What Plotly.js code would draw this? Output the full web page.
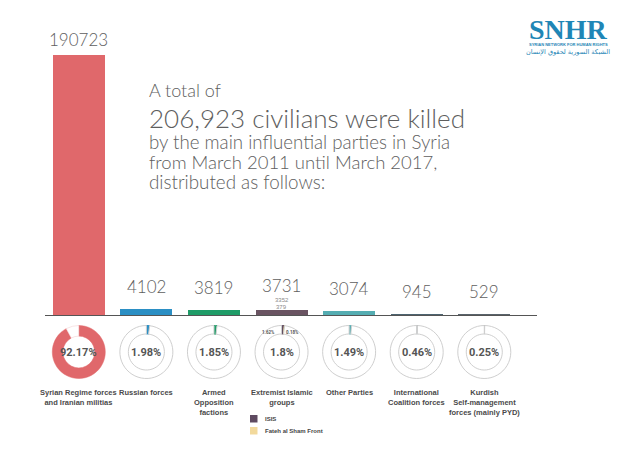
<!DOCTYPE html>
<html>
<head>
<meta charset="utf-8">
<script src="https://cdn.plot.ly/plotly-3.0.1.min.js"></script>
<style>html,body{margin:0;padding:0;background:#fff;}#chart{width:640px;height:452px;}</style>
</head>
<body>
<div id="chart"></div>
<script>
// ---- data ----
const categories = [
  "Syrian Regime forces<br>and Iranian militias",
  "Russian forces",
  "Armed<br>Opposition<br>factions",
  "Extremist Islamic<br>groups",
  "Other Parties",
  "International<br>Coalition forces",
  "Kurdish<br>Self-management<br>forces (mainly PYD)"
];
const totals = [190723, 4102, 3819, 3731, 3074, 945, 529];
const percents = [92.17, 1.98, 1.85, 1.8, 1.49, 0.46, 0.25];
const percentLabels = ["92.17%", "1.98%", "1.85%", "1.8%", "1.49%", "0.46%", "0.25%"];
const extremistParts = ["ISIS", "Fateh al Sham Front"];
const extremistValues = [3352, 379];
const extremistPercents = [1.62, 0.18];
const extremistPercentLabels = ["1.62%", "0.18%"];
const titleLines = [
  "A total of",
  "206,923 civilians were killed",
  "by the main influential parties in Syria",
  "from March 2011 until March 2017,",
  "distributed as follows:"
];

// ---- styles ----
const colors = ['#e0686b', '#2b8fc4', '#1f9c68', '#6a5462', '#55adb2', '#4d6470', '#59636b'];
const partColors = ['#5e4a60', '#f2d99c'];
const EXTREMIST = 3;
const W = 640, H = 452, L = 45, R = 103, PW = W - L - R;
const px = x => (x - L) / PW;
const py = y => (H - y) / H;
const XMIN = -0.5, XMAX = 6.78;
const catPx = i => L + (i - XMIN) / (XMAX - XMIN) * PW;
const lightFont = (size) => ({family: 'Lato, Roboto, sans-serif', size: size, color: '#5e5e5e', weight: 300});
const condBold = (size, color) => ({family: 'Roboto, "Liberation Sans", sans-serif', size: size, color: color || '#555', weight: 700});

const traces = [];
// main bars (all but the stacked extremist one)
traces.push({
  type: 'bar',
  x: totals.map((v, i) => i),
  y: totals.map((v, i) => i === EXTREMIST ? null : v),
  marker: {color: colors},
  hoverinfo: 'y',
  showlegend: false
});
// extremist stacked parts
extremistParts.forEach((name, k) => {
  traces.push({
    type: 'bar', name: name,
    x: [EXTREMIST], y: [extremistValues[k]],
    marker: {color: k === 0 ? colors[EXTREMIST] : partColors[1]},
    showlegend: false
  });
});

// donuts
const R_PX = 26.5, CY = 352;
percents.forEach((p, i) => {
  const cx = catPx(i);
  const dom = {x: [px(cx - R_PX), px(cx + R_PX)], y: [py(CY + R_PX), py(CY - R_PX)]};
  let values, cols, lines, hole;
  if (i === 0) {
    values = [p, 100 - p]; cols = [colors[0], '#ffffff']; lines = [colors[0], '#f1c9ca']; hole = 0.6;
  } else if (i === EXTREMIST) {
    values = extremistPercents.concat([100 - p]);
    cols = [partColors[0], partColors[1], '#ffffff'];
    lines = [partColors[0], '#c9b27a', '#cfcfcf'];
    hole = 0.68;
  } else {
    values = [p, 100 - p]; cols = [colors[i], '#ffffff']; lines = [colors[i], '#cfcfcf']; hole = 0.68;
  }
  traces.push({
    type: 'pie', values: values, sort: false, direction: 'clockwise', rotation: 0,
    hole: hole, domain: dom, textinfo: 'none', hoverinfo: 'none', showlegend: false,
    marker: {colors: cols, line: {color: lines, width: i === 0 ? 0.5 : 1}}
  });
});

const ann = [];
// value labels above bars
totals.forEach((v, i) => {
  ann.push({x: i, y: v, xref: 'x', yref: 'y', text: String(v), showarrow: false, xanchor: 'center',
    yanchor: 'bottom', yshift: v > 100000 ? 3 : (i === EXTREMIST ? 12 : 10), font: lightFont(17)});
});
// extremist sub-values
extremistValues.forEach((v, k) => {
  ann.push({x: EXTREMIST, y: totals[EXTREMIST], xref: 'x', yref: 'y', text: String(v), showarrow: false,
    xanchor: 'center', yanchor: 'middle', yshift: k === 0 ? 10 : 3,
    font: {family: 'Liberation Sans, sans-serif', size: 6, color: '#8a8a8a'}});
});
// donut centre labels
percentLabels.forEach((t, i) => {
  ann.push({x: px(catPx(i)), y: py(CY), xref: 'paper', yref: 'paper', text: t, showarrow: false,
    xanchor: 'center', yanchor: 'middle', font: condBold(11, '#555')});
});
// extremist donut small labels
extremistPercentLabels.forEach((t, k) => {
  ann.push({x: px(catPx(EXTREMIST) + (k === 0 ? -5 : 2)), y: py(CY - 20), xref: 'paper', yref: 'paper',
    text: t, showarrow: false, xanchor: k === 0 ? 'right' : 'left', yanchor: 'middle',
    font: condBold(4.5, '#555')});
});
// category labels
categories.forEach((c, i) => {
  ann.push({x: i, y: py(386), xref: 'x', yref: 'paper', text: c, showarrow: false, xanchor: 'center', yanchor: 'top',
    align: 'center', font: {family: '"Liberation Sans", Arial, sans-serif', size: 7.5, color: '#4a4a4a', weight: 700}});
});
// headline text
const titleSizes = [18, 26, 18.7, 18.5, 18.8];
const titleCenters = [90, 118, 142, 162, 182];
titleLines.forEach((t, k) => {
  ann.push({x: px(147), y: py(titleCenters[k]), xref: 'paper', yref: 'paper', text: t, showarrow: false,
    xanchor: 'left', yanchor: 'middle', font: lightFont(titleSizes[k])});
});
// legend (manual)
const shapes = [];
extremistParts.forEach((name, k) => {
  const top = 415 + k * 12;
  shapes.push({type: 'rect', xref: 'paper', yref: 'paper', x0: px(250), x1: px(257.5), y0: py(top + 7.5), y1: py(top),
    fillcolor: partColors[k], line: {width: 0}});
  ann.push({x: px(263), y: py(top + 4), xref: 'paper', yref: 'paper', text: name, showarrow: false,
    xanchor: 'left', yanchor: 'middle', font: {family: '"Liberation Sans", Arial, sans-serif', size: 6, color: '#444', weight: 700}});
});
// logo
ann.push({x: px(568), y: py(29.5), xref: 'paper', yref: 'paper', text: 'SNHR', showarrow: false,
  xanchor: 'center', yanchor: 'middle',
  font: {family: '"Liberation Serif", "DejaVu Serif", serif', size: 28, color: '#1f86b6', weight: 700}});
ann.push({x: px(568), y: py(45), xref: 'paper', yref: 'paper', text: 'SYRIAN NETWORK FOR HUMAN RIGHTS', showarrow: false,
  xanchor: 'center', yanchor: 'middle',
  font: {family: '"Liberation Sans", sans-serif', size: 4, color: '#1f86b6', weight: 700}});
ann.push({x: px(568), y: py(51.5), xref: 'paper', yref: 'paper', text: 'الشبكة السورية لحقوق الإنسان', showarrow: false,
  xanchor: 'center', yanchor: 'middle',
  font: {family: '"DejaVu Sans", "Noto Sans", sans-serif', size: 6.5, color: '#1f86b6'}});

const layout = {
  width: W, height: H,
  margin: {l: L, r: R, t: 0, b: 0, pad: 0},
  paper_bgcolor: '#ffffff', plot_bgcolor: 'rgba(0,0,0,0)',
  barmode: 'stack', bargap: 0.23,
  showlegend: false,
  xaxis: {range: [XMIN, XMAX], showgrid: false, zeroline: false, showticklabels: false, ticks: '',
    showline: true, linecolor: '#555', linewidth: 1, fixedrange: true},
  yaxis: {domain: [py(315), 1], range: [0, 231000], showgrid: false, zeroline: false, showticklabels: false,
    ticks: '', showline: false, fixedrange: true},
  annotations: ann,
  shapes: shapes
};
Plotly.newPlot('chart', traces, layout, {displayModeBar: false, staticPlot: true});
</script>
</body>
</html>
